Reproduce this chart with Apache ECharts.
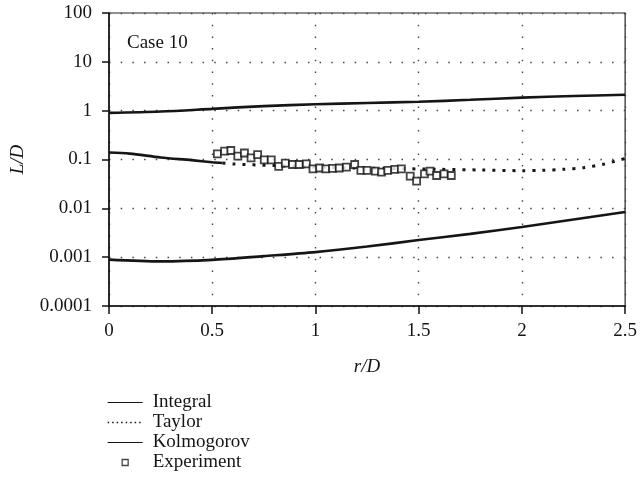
<!DOCTYPE html>
<html><head><meta charset="utf-8">
<script src="https://cdn.jsdelivr.net/npm/echarts@6/dist/echarts.min.js"></script>
<style>html,body{margin:0;padding:0;background:#fff}#c{width:640px;height:496px}</style>
</head><body><div id="c"></div>
<script>
// ---- data ----
const integralR = [0, 0.25, 0.5, 0.75, 1, 1.25, 1.5, 1.75, 2, 2.25, 2.5];
const integralV = [0.90, 0.96, 1.09, 1.24, 1.35, 1.44, 1.52, 1.67, 1.85, 1.99, 2.12];
const kolmoR = [0, 0.25, 0.5, 0.75, 1, 1.25, 1.5, 1.75, 2, 2.25, 2.5];
const kolmoV = [0.00089, 0.00082, 0.00088, 0.00105, 0.00127, 0.00165, 0.00224, 0.0030, 0.00414, 0.0059, 0.0084];
const taylorNearR = [0, 0.1, 0.25, 0.4, 0.5, 0.55];
const taylorNearV = [0.139, 0.132, 0.11, 0.097, 0.088, 0.085];
const taylorR = [0.55, 0.6, 0.8, 1.0, 1.2, 1.4, 1.6, 1.8, 2.0, 2.1, 2.2, 2.3, 2.4, 2.45, 2.5];
const taylorV = [0.085, 0.081, 0.075, 0.07, 0.067, 0.065, 0.063, 0.061, 0.059, 0.06, 0.063, 0.068, 0.081, 0.092, 0.105];
const expR = [0.525, 0.56, 0.59, 0.624, 0.656, 0.688, 0.72, 0.752, 0.786, 0.822, 0.854, 0.889, 0.921, 0.956, 0.988, 1.02, 1.05, 1.083, 1.115, 1.15, 1.19, 1.22, 1.25, 1.29, 1.32, 1.35, 1.384, 1.416, 1.459, 1.49, 1.528, 1.555, 1.587, 1.623, 1.658];
const expV = [0.130, 0.148, 0.153, 0.117, 0.136, 0.108, 0.126, 0.098, 0.098, 0.072, 0.084, 0.079, 0.079, 0.081, 0.064, 0.067, 0.064, 0.066, 0.067, 0.070, 0.079, 0.060, 0.060, 0.058, 0.055, 0.060, 0.0625, 0.064, 0.0457, 0.036, 0.051, 0.058, 0.047, 0.051, 0.047];
const xTicks = ['0', '0.5', '1', '1.5', '2', '2.5'];
const yTicks = ['0.0001', '0.001', '0.01', '0.1', '1', '10', '100'];
const legendNames = ['Integral', 'Taylor', 'Kolmogorov', 'Experiment'];

const pairs = (xs, ys) => xs.map((x, i) => [x, ys[i]]);
const FONT = 'Liberation Serif';
const INK = '#151515';
const noDot = {color: 'rgba(0,0,0,0)', borderWidth: 0, opacity: 0};

const chart = echarts.init(document.getElementById('c'), null, {renderer: 'canvas'});
chart.setOption({
  backgroundColor: '#fff',
  animation: false,
  title: {
    text: 'Case 10', left: 127, top: 34, padding: 0,
    textStyle: {fontFamily: FONT, fontSize: 19, fontWeight: 'normal', color: INK}
  },
  grid: {left: 107, right: 11, top: 13, bottom: 190, show: true, borderColor: '#222', borderWidth: 1.2, backgroundColor: 'transparent'},
  xAxis: {
    type: 'value', min: 0, max: 2.5, interval: 0.5,
    name: 'r/D', nameLocation: 'middle', nameGap: 51,
    nameTextStyle: {fontFamily: FONT, fontSize: 19, fontStyle: 'italic', color: INK},
    axisLine: {lineStyle: {color: '#111', width: 1.5}},
    axisTick: {show: true, inside: false, length: 8, lineStyle: {color: '#111', width: 1.5}},
    axisLabel: {margin: 16, fontFamily: FONT, fontSize: 19, color: INK,
      formatter: v => xTicks[Math.round(v / 0.5)]},
    splitLine: {show: true, lineStyle: {color: '#444', width: 1.4, type: [1.5, 10.2]}}
  },
  yAxis: {
    type: 'log', logBase: 10, min: 0.0001, max: 100, interval: 1,
    name: 'L/D', nameLocation: 'middle', nameGap: 82, nameRotate: 90,
    nameTextStyle: {fontFamily: FONT, fontSize: 19, fontStyle: 'italic', color: INK},
    axisLine: {show: true, lineStyle: {color: '#111', width: 1.5}},
    axisTick: {show: true, inside: false, length: 7, lineStyle: {color: '#111', width: 1.5}},
    axisLabel: {margin: 17, fontFamily: FONT, fontSize: 19, color: INK,
      formatter: v => yTicks[Math.round(Math.log10(v)) + 4]},
    splitLine: {show: true, lineStyle: {color: '#444', width: 1.4, type: [1.5, 10.2]}}
  },
  legend: {
    orient: 'vertical', left: 107, top: 393, padding: 0,
    itemWidth: 35, itemHeight: 6, itemGap: 1,
    textStyle: {fontFamily: FONT, fontSize: 19, color: INK, lineHeight: 19, padding: [0, 0, 0, 5]},
    lineStyle: {width: 1.2},
    selectedMode: false,
    data: [
      {name: legendNames[0], itemStyle: noDot},
      {name: legendNames[1], itemStyle: noDot, lineStyle: {type: [1.5, 3], width: 1.3}},
      {name: legendNames[2], itemStyle: noDot},
      {name: legendNames[3], icon: 'path://M0,0H10V10H0Z', itemStyle: {color: '#fff', borderColor: INK, borderWidth: 1.3}}
    ]
  },
  series: [
    {name: legendNames[0], type: 'line', data: pairs(integralR, integralV), showSymbol: false, symbol: 'none', smooth: 0.3,
      lineStyle: {color: INK, width: 2.6}, itemStyle: {color: INK}},
    {name: legendNames[1], type: 'line', data: pairs(taylorR, taylorV), showSymbol: false, symbol: 'none', smooth: 0.3,
      lineStyle: {color: INK, width: 3, type: [3, 7], cap: 'butt'}, itemStyle: {color: INK}},
    {name: legendNames[1], type: 'line', data: pairs(taylorNearR, taylorNearV), showSymbol: false, symbol: 'none', smooth: 0.3,
      lineStyle: {color: INK, width: 2.6}, itemStyle: {color: INK}},
    {name: legendNames[2], type: 'line', data: pairs(kolmoR, kolmoV), showSymbol: false, symbol: 'none', smooth: 0.3,
      lineStyle: {color: INK, width: 2.6}, itemStyle: {color: INK}},
    {name: legendNames[3], type: 'scatter', data: pairs(expR, expV), symbol: 'rect', symbolSize: 7,
      itemStyle: {color: '#fff', borderColor: INK, borderWidth: 1.8}, z: 5}
  ]
});
</script></body></html>
